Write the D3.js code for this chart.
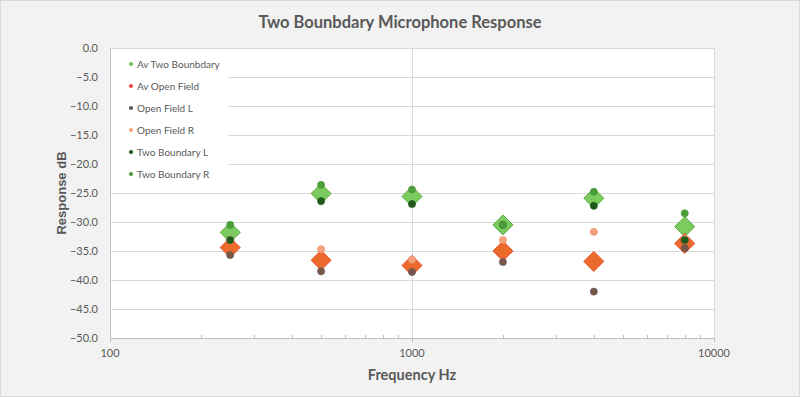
<!DOCTYPE html>
<html>
<head>
<meta charset="utf-8">
<script src="https://cdn.jsdelivr.net/npm/d3@7"></script>
<style>
  body { margin: 0; background: #fff; }
  svg text { font-family: Lato, "Open Sans", sans-serif; }
</style>
</head>
<body>
<div id="chart"></div>
<script>
// frequencies (Hz) and measured responses (dB)
const freqs = [250, 500, 1000, 2000, 4000, 8000];
const avTwoBoundary = [-31.8, -25.1, -25.6, -30.5, -25.9, -30.8];
const avOpenField = [-34.4, -36.6, -37.5, -35.0, -36.8, -33.7];
const openFieldL = [-35.7, -38.5, -38.6, -36.9, -42.0, -34.5];
const openFieldR = [-33.1, -34.7, -36.5, -33.1, -31.7, -32.9];
const twoBoundaryL = [-33.1, -26.4, -26.9, -30.5, -27.2, -33.1];
const twoBoundaryR = [-30.5, -23.6, -24.4, -30.5, -24.8, -28.5];
const yTicks = [0, -5, -10, -15, -20, -25, -30, -35, -40, -45, -50];
const xTicks = [100, 1000, 10000];

const W = 800, H = 397;
const margin = { top: 48, right: 86, bottom: 59, left: 110 };
const innerW = W - margin.left - margin.right;
const innerH = H - margin.top - margin.bottom;

const series = [
  { name: "Av Two Bounbdary", values: avTwoBoundary, shape: "diamond", size: 10, fill: "#7ccb5e", stroke: "#5ea844", legendFill: "#6dbb55" },
  { name: "Av Open Field", values: avOpenField, shape: "diamond", size: 10, fill: "#ec6a2c", stroke: "#e4502c", legendFill: "#e8463a" },
  { name: "Open Field L", values: openFieldL, shape: "dot", size: 3.6, fill: "#7a5646", stroke: "#5e5a66", legendFill: "#595959" },
  { name: "Open Field R", values: openFieldR, shape: "dot", size: 3.6, fill: "#f3a07c", stroke: "#f09070", legendFill: "#f0a070" },
  { name: "Two Boundary L", values: twoBoundaryL, shape: "dot", size: 3.6, fill: "#1f5a1a", stroke: "#1f5a1a", legendFill: "#1f5a1a" },
  { name: "Two Boundary R", values: twoBoundaryR, shape: "dot", size: 3.6, fill: "#4c9c3a", stroke: "#4c9c3a", legendFill: "#4c9c3a" }
];

const svg = d3.select("#chart").append("svg")
  .attr("width", W).attr("height", H);

// outer chart background
svg.append("rect")
  .attr("x", 0.5).attr("y", 0.5)
  .attr("width", W - 1).attr("height", H - 1)
  .attr("fill", "#f2f2f2")
  .attr("stroke", "#d9d9d9");

const g = svg.append("g")
  .attr("transform", `translate(${margin.left},${margin.top})`);

const x = d3.scaleLog().domain([100, 10000]).range([0, innerW]);
const y = d3.scaleLinear().domain([-50, 0]).range([innerH, 0]);

// plot area
g.append("rect")
  .attr("width", innerW).attr("height", innerH)
  .attr("fill", "#fff");

// horizontal gridlines
g.selectAll(".hgrid")
  .data(yTicks.filter(d => d !== -50))
  .enter().append("line")
  .attr("x1", 0).attr("x2", innerW)
  .attr("y1", d => y(d) + 0.5).attr("y2", d => y(d) + 0.5)
  .attr("stroke", "#d9d9d9");

// vertical gridlines at decades
g.selectAll(".vgrid")
  .data(xTicks.slice(1))
  .enter().append("line")
  .attr("x1", d => Math.round(x(d)) + 0.5).attr("x2", d => Math.round(x(d)) + 0.5)
  .attr("y1", 0).attr("y2", innerH)
  .attr("stroke", "#d9d9d9");

// minor ticks on the log axis
const minor = [];
[100, 1000].forEach(dec => { for (let k = 2; k <= 9; k++) minor.push(dec * k); });
g.selectAll(".minor")
  .data(minor)
  .enter().append("line")
  .attr("x1", d => Math.round(x(d)) + 0.5).attr("x2", d => Math.round(x(d)) + 0.5)
  .attr("y1", innerH - 3).attr("y2", innerH + 1)
  .attr("stroke", "#bfbfbf");

g.selectAll(".major")
  .data(xTicks)
  .enter().append("line")
  .attr("x1", d => Math.round(x(d)) + 0.5).attr("x2", d => Math.round(x(d)) + 0.5)
  .attr("y1", innerH).attr("y2", innerH + 4)
  .attr("stroke", "#bfbfbf");

// axis lines
g.append("line")
  .attr("x1", 0.5).attr("x2", 0.5).attr("y1", 0).attr("y2", innerH)
  .attr("stroke", "#bfbfbf");
g.append("line")
  .attr("x1", 0).attr("x2", innerW).attr("y1", innerH + 0.5).attr("y2", innerH + 0.5)
  .attr("stroke", "#bfbfbf");

// tick labels
g.selectAll(".ylab")
  .data(yTicks)
  .enter().append("text")
  .attr("x", -12).attr("y", d => y(d))
  .attr("dy", "0.35em")
  .attr("text-anchor", "end")
  .style("font-size", "11px")
  .style("fill", "#595959")
  .text(d => d3.format(".1f")(d));

g.selectAll(".xlab")
  .data(xTicks)
  .enter().append("text")
  .attr("x", d => x(d)).attr("y", innerH + 19)
  .attr("text-anchor", "middle")
  .style("font-size", "11px")
  .style("fill", "#595959")
  .text(d => d);

// legend box covering gridlines
const legend = g.append("g");
legend.append("rect")
  .attr("x", 1).attr("y", 2)
  .attr("width", 117).attr("height", 136)
  .attr("fill", "#fff");

const legendItems = legend.selectAll(".item")
  .data(series)
  .enter().append("g")
  .attr("transform", (d, i) => `translate(21,${16 + i * 22})`);

legendItems.append("path")
  .attr("d", d => d.shape === "diamond"
    ? d3.symbol().type(d3.symbolDiamond2).size(16)()
    : d3.symbol().type(d3.symbolCircle).size(14)())
  .attr("fill", d => d.legendFill);

legendItems.append("text")
  .attr("x", 6).attr("dy", "0.35em")
  .style("font-size", "10px")
  .style("fill", "#595959")
  .text(d => d.name);

// marks
const diamond = s => `M0,${-s}L${s},0L0,${s}L${-s},0Z`;

series.forEach(s => {
  const pts = freqs.map((f, i) => ({ f, v: s.values[i] }));
  if (s.shape === "diamond") {
    g.selectAll(null)
      .data(pts)
      .enter().append("path")
      .attr("transform", d => `translate(${x(d.f)},${y(d.v)})`)
      .attr("d", diamond(s.size))
      .attr("fill", s.fill)
      .attr("stroke", s.stroke)
      .attr("stroke-width", 1);
  } else {
    g.selectAll(null)
      .data(pts)
      .enter().append("circle")
      .attr("cx", d => x(d.f)).attr("cy", d => y(d.v))
      .attr("r", s.size)
      .attr("fill", s.fill)
      .attr("stroke", s.stroke)
      .attr("stroke-width", 0.6);
  }
});

// title and axis titles
svg.append("text")
  .attr("x", 400).attr("y", 28)
  .attr("text-anchor", "middle")
  .style("font-size", "16.5px")
  .style("font-weight", "bold")
  .style("fill", "#595959")
  .text("Two Bounbdary Microphone Response");

svg.append("text")
  .attr("x", margin.left + x(1000)).attr("y", 380)
  .attr("text-anchor", "middle")
  .style("font-size", "14.5px")
  .style("font-weight", "bold")
  .style("fill", "#595959")
  .text("Frequency Hz");

svg.append("text")
  .attr("transform", `translate(66,${margin.top + y(-25)}) rotate(-90)`)
  .attr("text-anchor", "middle")
  .style("font-family", "'Liberation Sans', Arial, sans-serif")
  .style("font-size", "13px")
  .style("font-weight", "bold")
  .style("fill", "#595959")
  .text("Response dB");
</script>
</body>
</html>
